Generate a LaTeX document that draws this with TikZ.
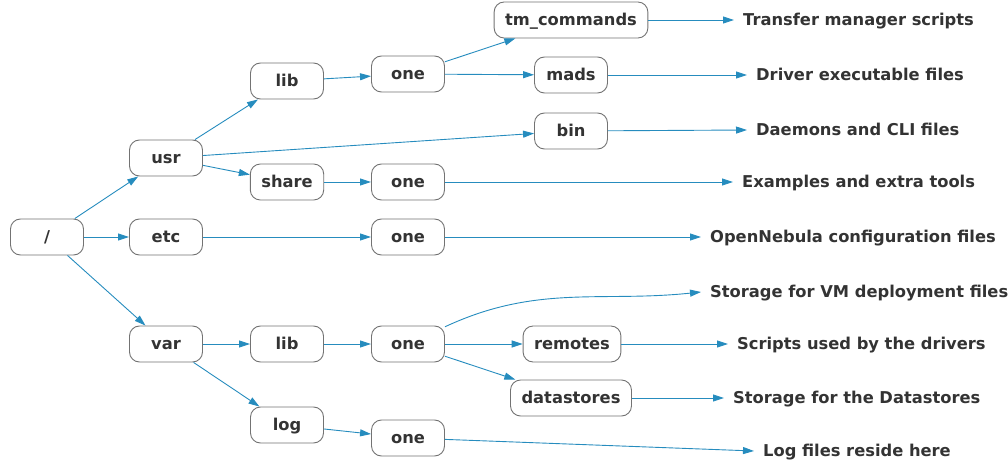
\documentclass[tikz,border=0pt]{standalone}
\usepackage{fontspec}
\setmainfont{DejaVu Sans}
\usepackage{xcolor}
\usetikzlibrary{arrows.meta}
\definecolor{linkblue}{RGB}{38,140,190}

\begin{document}
\begin{tikzpicture}[
    x=1pt, y=-1pt,
    dir/.style={rectangle, rounded corners=10pt, draw=black!55, line width=0.9pt,
                minimum width=73pt, minimum height=36pt,
                font=\fontsize{16.3}{19}\selectfont\bfseries, text=black!80,
                text height=11.5pt, text depth=0pt, inner xsep=11pt, inner ysep=6pt,
                fill=white},
    desc/.style={anchor=west, font=\fontsize{16.3}{19}\selectfont\bfseries, text=black!80,
                 text height=11.5pt, text depth=0pt, inner xsep=9pt, inner ysep=2pt},
    arr/.style={-{Triangle[length=11pt,width=7pt]}, linkblue, line width=0.9pt},
]
    \useasboundingbox (0,0) rectangle (1008,462);

    % directories
    \node[dir] (root)  at (47,237)  {/};
    \node[dir] (usr)   at (166,158) {usr};
    \node[dir] (etc)   at (166,237) {etc};
    \node[dir] (var)   at (166,344) {var};
    \node[dir] (ulib)  at (287,81)  {lib};
    \node[dir] (share) at (287,182) {share};
    \node[dir] (vlib)  at (287,344) {lib};
    \node[dir] (log)   at (287,425) {log};
    \node[dir] (uone)  at (408,74)  {one};
    \node[dir] (sone)  at (408,182) {one};
    \node[dir] (eone)  at (408,237) {one};
    \node[dir] (vone)  at (408,344) {one};
    \node[dir] (lone)  at (408,438) {one};
    \node[dir] (tmcmd) at (571,20)  {tm\_commands};
    \node[dir] (mads)  at (571,75)  {mads};
    \node[dir] (bin)   at (571,131) {bin};
    \node[dir] (rem)   at (572,344) {remotes};
    \node[dir] (dstor) at (571,398) {datastores};

    % descriptions
    \node[desc] (ltm)   at (734,20)  {Transfer manager scripts};
    \node[desc] (lmads) at (747,75)  {Driver executable files};
    \node[desc] (lbin)  at (747,130) {Daemons and CLI files};
    \node[desc] (lshr)  at (733,182) {Examples and extra tools};
    \node[desc] (letc)  at (701,237) {OpenNebula configuration files};
    \node[desc] (lvm)   at (701,292) {Storage for VM deployment files};
    \node[desc] (lrem)  at (728,344) {Scripts used by the drivers};
    \node[desc] (lds)   at (724,398) {Storage for the Datastores};
    \node[desc] (llog)  at (754,451) {Log files reside here};

    % tree
    \draw[arr] (root) -- (usr);
    \draw[arr] (root) -- (etc);
    \draw[arr] (root) -- (var);
    \draw[arr] (usr) -- (ulib);
    \draw[arr] (usr) -- (bin);
    \draw[arr] (usr) -- (share);
    \draw[arr] (ulib) -- (uone);
    \draw[arr] (uone) -- (tmcmd);
    \draw[arr] (uone) -- (mads);
    \draw[arr] (share) -- (sone);
    \draw[arr] (etc) -- (eone);
    \draw[arr] (var) -- (vlib);
    \draw[arr] (var) -- (log);
    \draw[arr] (vlib) -- (vone);
    \draw[arr] (vone) -- (rem);
    \draw[arr] (vone) -- (dstor);
    \draw[arr] (log) -- (lone);

    % to the descriptions
    \draw[arr] (tmcmd) -- (ltm.west);
    \draw[arr] (mads) -- (lmads.west);
    \draw[arr] (bin) -- (lbin.west);
    \draw[arr] (sone) -- (lshr.west);
    \draw[arr] (eone) -- (letc.west);
    \draw[arr] (vone) to[out=25, in=186] (lvm.west);
    \draw[arr] (rem) -- (lrem.west);
    \draw[arr] (dstor) -- (lds.west);
    \draw[arr] (lone) -- (llog.west);
\end{tikzpicture}
\end{document}
